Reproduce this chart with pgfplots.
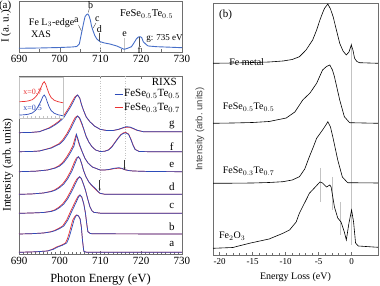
\documentclass[border=0pt]{standalone}
\usepackage{fontspec}
\setmainfont{Liberation Serif}
\newfontfamily\sansf{Liberation Sans}
\usepackage{pgfplots}
\pgfplotsset{compat=1.18}
\usetikzlibrary{arrows.meta}
\definecolor{xasblue}{RGB}{70,110,200}
\definecolor{rblue}{RGB}{45,75,185}
\definecolor{rred}{RGB}{235,50,50}
\definecolor{fr}{RGB}{110,110,110}
\definecolor{glc}{RGB}{195,195,195}
\newcommand{\fs}[1]{\fontsize{#1}{#1}\selectfont}
\begin{document}
\begin{tikzpicture}
\useasboundingbox (0,0) rectangle (380pt,286pt);
\pgfplotsset{every axis/.append style={scale only axis, anchor=south west, axis line style={fr}, tick style={fr, line width=0.4pt}, tick align=inside, clip=false,
 /pgf/number format/assume math mode=true, /pgf/number format/set thousands separator={}}}
% ---------------- top XAS ----------------
\begin{axis}[at={(19pt,234pt)}, width=163pt, height=51pt, xmin=690, xmax=730, ymin=0, ymax=51,
 xtick={690,700,710,720,730}, minor x tick num=1, ytick=\empty, xtick pos=bottom,
 ticklabel style={font=\fs{11}},
 ylabel={I (a.\ u.)}, ylabel style={at={(axis description cs:-0.08,0.5)}, anchor=center, font=\fs{11}}]
\draw[draw=glc, dotted, line width=0.4pt] (axis cs:710,10) -- (axis cs:710,0);
\draw[draw=glc, line width=0.9pt] (axis cs:715.9,14) -- (axis cs:715.9,0);
\addplot[xasblue, line width=0.9pt] coordinates {(690,3.7) (695,4.0) (700,4.5) (703,5.0) (704.2,5.5) (704.8,8) (705.0,12) (705.4,20) (705.8,28) (706.2,35.3) (706.6,37.5) (706.9,38) (707.2,36) (707.5,32) (707.8,26) (708.1,22) (708.6,16.5) (709.1,13) (709.9,10.3) (711,9) (712.3,8) (714,6) (715.8,2.7) (716.5,3.5) (717.6,5.3) (718.2,9) (718.8,13) (719.3,15) (719.7,15.3) (720.1,14.5) (720.5,10.3) (721.2,7.5) (721.7,6) (723.8,5.3) (727,4.8) (730,4.3)};
\draw[black!70] (axis cs:704.6,27) -- (axis cs:705.3,21);
\draw[black!70] (axis cs:707.3,44) -- (axis cs:707.0,39.5);
\draw[black!70] (axis cs:708.9,29) -- (axis cs:708.2,24);
\draw[black!70] (axis cs:709.8,19) -- (axis cs:709.8,11);
\draw[black!70] (axis cs:719.5,5.5) -- (axis cs:719.5,14.5);
\node[font=\fs{10}] at (axis cs:698.0,29) {Fe L$_3$-edge};
\node[font=\fs{10}] at (axis cs:695.4,17.7) {XAS};
\node[font=\fs{10}] at (axis cs:704.1,32) {a};
\node[font=\fs{10}] at (axis cs:707.6,46.5) {b};
\node[font=\fs{10}] at (axis cs:709.2,32.5) {c};
\node[font=\fs{10}] at (axis cs:709.7,23) {d};
\node[font=\fs{10}] at (axis cs:715.9,18) {e};
\node[font=\fs{10}] at (axis cs:719.5,2.2) {f};
\node[font=\fs{9}] at (axis cs:725.7,14) {g: 735 eV};
\node[font=\fs{10.5}] at (axis cs:721.3,38) {FeSe$_{0.5}$Te$_{0.5}$};
\node[font=\fs{11}] at (axis description cs:-0.085,0.9) {(a)};
\end{axis}
% ---------------- bottom RIXS ----------------
\begin{axis}[at={(19pt,32pt)}, width=163pt, height=178pt, xmin=690, xmax=730, ymin=0, ymax=178,
 xtick={690,700,710,720,730}, minor x tick num=9, ytick=\empty, xtick pos=both, xticklabel pos=bottom,
 minor tick length=1.5pt, major tick length=3pt,
 ticklabel style={font=\fs{11}},
 xlabel={Photon Energy (eV)}, xlabel style={at={(axis description cs:0.5,-0.146)}, anchor=center, font=\fs{12.5}},
 ylabel={Intensity (arb.\ units)}, ylabel style={at={(axis description cs:-0.0675,0.5)}, anchor=center, font=\fs{11.5}},
 legend style={at={(axis cs:713.3,165.5)}, anchor=north west, draw=none, fill=none, font=\fs{11}, row sep=3pt, inner sep=0pt, nodes={inner sep=1pt}},
 legend cell align=left, reverse legend,
 legend image code/.code={\draw[#1, line width=1.1pt] (0pt,0pt) -- (8pt,0pt);}]
\draw[draw=glc, dotted, line width=0.4pt] (axis cs:710,178) -- (axis cs:710,74);
\draw[draw=glc, dotted, line width=0.4pt] (axis cs:716,178) -- (axis cs:716,94);
% red curves
\addplot[rred, line width=0.7pt] coordinates {(690,121.3) (693,121.6) (695,122.3) (697.3,126) (698.7,129.5) (699.7,132.5) (700.7,136.5) (701.4,141) (702.2,146) (703.0,152) (703.7,157) (704.3,159) (704.9,156) (705.3,150) (705.8,144) (706.5,137) (707.4,132.3) (708.5,128) (709.9,124.7) (711.5,123.5) (713.1,123.5) (714.5,124.6) (715.5,126) (716.5,126.8) (717.2,126.6) (718,125.4) (719,123.6) (720.5,122.3) (725,122.3) (730,122.3)};
\addlegendentry{FeSe$_{0.3}$Te$_{0.7}$}
\addplot[rred, line width=0.7pt, forget plot] coordinates {(690,102.3) (693,102.5) (695,103) (697.7,106) (699.7,110) (700.7,114) (701.7,120) (702.5,126) (703.2,132) (703.8,136.5) (704.3,138) (704.8,136) (705.4,130) (706,123.5) (706.5,117.3) (707.2,111.5) (707.9,107.3) (708.8,104) (709.9,102.5) (711,102.7) (712,104.3) (712.8,107.5) (713.5,111.5) (714.3,116) (715,119.5) (715.7,121.3) (716.2,121.5) (716.9,120) (717.5,114.5) (718,109) (718.5,104.7) (719.5,102.5) (722,102.3) (730,102.3)};
\addplot[rred, line width=0.7pt, forget plot] coordinates {(690,82.3) (694,82.8) (697,84) (698.7,86) (699.7,88) (700.7,91.5) (701.7,97) (702.5,102.5) (703.2,108) (703.7,115) (704.0,119) (704.3,116) (704.8,109) (705.5,102.3) (706.2,95.5) (707,90.7) (708,87) (709.9,84) (711,84) (712,84.3) (713.3,85.3) (714.5,85.8) (715.3,85.3) (716,84.2) (717,83.4) (718,83) (722,82.5) (730,82.3)};
\addplot[rred, line width=0.7pt, forget plot] coordinates {(690,59.7) (693,60) (696,61) (697.7,62.5) (698.7,64) (699.7,66.5) (700.7,70) (701.7,75.5) (702.7,83) (703.5,91) (704.1,96) (704.5,97) (705,95) (705.4,90) (705.8,84) (706.4,77.5) (707.1,72.3) (707.8,68.5) (708.7,65) (709.3,62.5) (709.9,60.5) (711,59.8) (730,59.7)};
\addplot[rred, line width=0.7pt, forget plot] coordinates {(690,40.7) (693,41) (696,41.5) (697.7,42.6) (698.7,44) (699.7,46.5) (700.7,50) (701.7,55.5) (702.7,63) (703.7,71.5) (704.3,75.5) (704.8,77) (705.3,75.5) (705.8,70) (706.3,64) (706.8,56) (707.4,47.3) (707.9,43.3) (708.3,41.7) (710,40.8) (730,40.7)};
\addplot[rred, line width=0.7pt, forget plot] coordinates {(690,20) (693,20.3) (696,21) (697.7,22.2) (698.7,23.5) (699.7,25.5) (700.7,28) (701.7,34) (702.7,43) (703.7,51.5) (704.4,57) (704.9,59) (705.4,57) (705.9,50) (706.3,41) (706.6,31) (706.9,22.3) (707.5,20.5) (708,20.2) (730,20)};
\addplot[rred, line width=0.7pt, forget plot] coordinates {(690,1.7) (694,2.2) (697,3) (698.2,4.8) (699.2,7) (700.4,8.8) (701.4,11) (701.9,15.5) (702.3,20.7) (702.8,28) (703.2,34) (703.7,37.5) (704.1,39) (704.6,38) (705,35) (705.3,27) (705.6,13) (705.9,2.8) (706.5,1.8) (730,1.8)};
% blue curves
\addplot[rblue, line width=0.7pt] coordinates {(690,121.3) (693,121.6) (695,122.3) (697.6,126) (699,129.5) (700,132.5) (701,136.5) (701.7,141) (702.5,146) (703.3,152) (703.9,157) (704.4,159) (704.9,156) (705.3,150) (705.8,144) (706.5,137) (707.4,132.3) (708.5,128) (709.9,124.7) (711.5,123.5) (713.1,123.5) (714.5,124.8) (715.5,126.3) (716.3,127.3) (717.2,127) (718,125.7) (719,123.8) (720.5,122.3) (725,122.3) (730,122.3)};
\addlegendentry{FeSe$_{0.5}$Te$_{0.5}$}
\addplot[rblue, line width=0.7pt, forget plot] coordinates {(690,102.3) (693,102.5) (695,103) (698,106) (700,110) (701,114) (702,120) (702.8,126) (703.5,132) (704,136) (704.4,138) (704.9,136) (705.5,130) (706,123.5) (706.5,117.3) (707.2,111.5) (707.9,107.3) (708.8,104) (709.9,102.5) (711,102.7) (712,104) (712.8,107) (713.5,111) (714.3,115.5) (715,119) (715.7,120.8) (716.3,121) (716.9,119.5) (717.5,114) (718,108.5) (718.5,104.5) (719.5,102.5) (722,102.3) (730,102.3)};
\addplot[rblue, line width=0.7pt, forget plot] coordinates {(690,82.3) (694,82.8) (697,84) (699,86) (700,88) (701,91.5) (702,97) (702.8,102.5) (703.5,108) (703.9,115) (704.1,119.7) (704.4,116) (704.9,109) (705.5,102.3) (706.2,95.5) (707,90.7) (708,87) (709.9,84) (711,84) (712,84.5) (713.3,85.7) (714.5,86.3) (715.3,85.6) (716,84.3) (717,83.4) (718,83) (722,82.5) (730,82.3)};
\addplot[rblue, line width=0.7pt, forget plot] coordinates {(690,59.7) (693,60) (696,61) (698,62.5) (699,64) (700,66.5) (701,70) (702,75.5) (703,83) (703.8,91) (704.3,96) (704.6,97.3) (705,95) (705.4,90) (705.8,84) (706.4,77.5) (707.1,72.3) (707.8,69) (708.7,65.7) (709.3,63) (709.9,60.7) (711,59.8) (730,59.7)};
\addplot[rblue, line width=0.7pt, forget plot] coordinates {(690,40.7) (693,41) (696,41.5) (698,42.6) (699,44) (700,46.5) (701,50) (702,55.5) (703,63) (704,71.5) (704.5,75.5) (704.9,77.3) (705.3,75.5) (705.8,70) (706.3,64) (706.8,56) (707.4,47.3) (707.9,43.3) (708.3,41.7) (710,40.8) (730,40.7)};
\addplot[rblue, line width=0.7pt, forget plot] coordinates {(690,20) (693,20.3) (696,21) (698,22.2) (699,23.5) (700,25.5) (701,28) (702,34) (703,43) (704,51.5) (704.6,57) (705,59) (705.4,57) (705.9,50) (706.3,41) (706.6,31) (706.9,22.3) (707.5,20.5) (708,20.2) (730,20)};
\addplot[rblue, line width=0.7pt, forget plot] coordinates {(690,1.7) (694,2.2) (697,3) (698.5,4.8) (699.5,7) (700.7,8.8) (701.7,11) (702.2,15.5) (702.6,20.7) (703.1,28) (703.5,34) (703.9,37.5) (704.2,39) (704.6,38) (705,35) (705.3,27) (705.6,13) (705.9,2.8) (706.5,1.8) (730,1.8)};
% annotations
\draw[black!80, -{Stealth[length=2.5pt,width=2pt]}] (axis cs:709.8,74) -- (axis cs:709.8,63);
\draw[black!80, -{Stealth[length=2.5pt,width=2pt]}] (axis cs:715.9,94) -- (axis cs:715.9,84);
\node[font=\fs{11}] at (axis cs:727.5,129) {g};
\node[font=\fs{11}] at (axis cs:727.5,107) {f};
\node[font=\fs{11}] at (axis cs:727.5,89) {e};
\node[font=\fs{11}] at (axis cs:727.5,67) {d};
\node[font=\fs{11}] at (axis cs:727.5,48) {c};
\node[font=\fs{11}] at (axis cs:727.5,27) {b};
\node[font=\fs{11}] at (axis cs:727.5,10) {a};
\node[font=\fs{11}, anchor=east] at (axis cs:729.6,172) {RIXS};
\end{axis}
% ---------------- inset ----------------
\begin{axis}[at={(19.5pt,168pt)}, width=43.5pt, height=41pt, xmin=0, xmax=44, ymin=0, ymax=41,
 axis line style={glc}, xtick={4,8,...,40}, xticklabels={}, ytick=\empty, xtick pos=bottom, major tick length=1.5pt, tick style={glc}, axis background/.style={fill=white}]
\addplot[rred, line width=0.7pt] coordinates {(0,16.3) (5,16.5) (9,17.1) (13,18.3) (16,20.8) (18,23.3) (20,27) (22,31) (23.5,34.5) (25,36.3) (26.5,34) (28,29.5) (30,24) (32,20.5) (35,17.8) (39,16.3) (44,15.2)};
\addplot[rblue, line width=0.7pt] coordinates {(0,3) (5,3.2) (9,3.8) (13,5) (16,7.5) (18,10) (20,13.5) (22,17.5) (23.5,21.2) (25,23) (26.5,20.8) (28,16.3) (30,11) (32,7.5) (35,4.8) (39,3.2) (44,2.2)};
\node[font=\fs{8}, text=rred, anchor=west] at (axis cs:0.3,26.3) {x=0.7};
\node[font=\fs{8}, text=rblue, anchor=west] at (axis cs:0.3,10) {x=0.5};
\end{axis}
% ---------------- right panel ----------------
\begin{axis}[at={(213pt,31pt)}, width=165pt, height=252pt, xmin=-21, xmax=4, ymin=0, ymax=252,
 xtick={-20,-15,-10,-5,0}, xticklabels={-20,-15,-10,-5,0}, minor x tick num=4, ytick=\empty, xtick pos=bottom,
 minor tick length=1.5pt, major tick length=3pt,
 ticklabel style={font=\fs{9}},
 xlabel={Energy Loss (eV)}, xlabel style={at={(axis description cs:0.5,-0.087)}, anchor=center, font=\fs{10}},
 ylabel={Intensity (arb.\ units)}, ylabel style={at={(axis description cs:-0.079,0.5)}, anchor=center, font=\sansf\fs{9.5}, text=black!75}]
\draw[draw=glc, line width=1pt] (axis cs:0,212) -- (axis cs:0,10);
\draw[draw=glc, line width=0.7pt] (axis cs:-4.7,87) -- (axis cs:-4.7,53);
\draw[draw=glc, line width=0.7pt] (axis cs:-2.9,78) -- (axis cs:-2.9,45);
\draw[draw=glc, line width=0.7pt] (axis cs:-1.7,53) -- (axis cs:-1.7,20);
\addplot[black, line width=0.6pt] coordinates {(-21,191.7) (-18,192) (-15,192.5) (-12.5,193) (-10.4,194) (-9,195.5) (-7.9,198.3) (-6.9,205) (-5.9,215) (-5.3,225) (-4.8,235) (-4.4,242) (-4.1,246.7) (-3.6,251) (-3.2,246) (-2.8,238.3) (-2.3,225) (-1.8,211.7) (-1.3,204) (-0.8,200) (-0.4,203) (-0.05,210) (0.2,205) (0.45,196.7) (0.8,193.5) (1.2,192.3) (4,191.7)};
\addplot[black, line width=0.6pt] coordinates {(-21,131.7) (-18,132) (-15,132.5) (-12.5,133.5) (-9.9,137) (-8.6,143) (-7.4,155) (-6.3,162) (-5.3,171.7) (-4.4,185) (-3.8,188.5) (-3.3,190) (-2.9,185) (-2.6,178.3) (-1.8,155) (-1.1,138.3) (-0.3,132.3) (4,131.7)};
\addplot[black, line width=0.6pt] coordinates {(-21,71.7) (-18,71.8) (-15,72) (-12.5,72.5) (-10.4,73.3) (-9,75) (-7.9,78.3) (-7.1,86) (-6.4,98.3) (-5.8,108) (-5.3,116.7) (-4.4,125) (-3.9,130) (-3.6,133.3) (-3.2,128) (-2.8,116.7) (-2.1,95) (-1.4,78) (-0.6,72.3) (4,72)};
\addplot[black, line width=0.6pt] coordinates {(-21,6.7) (-18,7.5) (-15.5,11.7) (-12.5,16) (-10.4,21.7) (-9.4,25) (-8.4,33) (-7.9,42) (-6.9,55) (-6.4,61.7) (-5.5,68) (-4.8,73) (-4.4,72) (-3.8,68) (-3.3,70) (-3.1,68) (-2.6,48) (-2.1,37) (-1.6,33) (-1.1,23) (-0.8,15) (-0.4,32) (0,45) (0.3,33) (0.6,12) (1,9) (4,7.7)};
\node[font=\fs{10}] at (axis cs:-15.9,193) {Fe metal};
\node[font=\fs{10}] at (axis cs:-15.6,148) {FeSe$_{0.5}$Te$_{0.5}$};
\node[font=\fs{10}] at (axis cs:-15.6,84) {FeSe$_{0.3}$Te$_{0.7}$};
\node[font=\fs{10}] at (axis cs:-18.1,19) {Fe$_2$O$_3$};
\node[font=\fs{11}] at (axis cs:-19.1,240) {(b)};
\end{axis}
\end{tikzpicture}
\end{document}
